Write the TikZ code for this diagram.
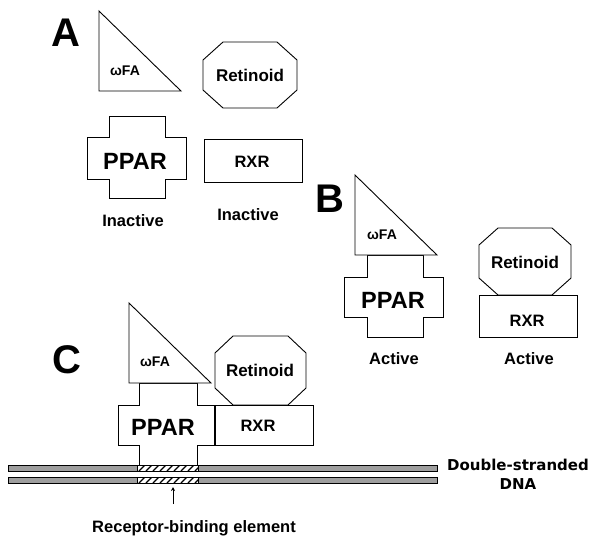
\documentclass[tikz,border=0pt]{standalone}
\usepackage{fontspec}
\usetikzlibrary{arrows.meta}
\setmainfont{Liberation Sans}
\newfontfamily\dvfont{DejaVu Sans}
\newcommand\myfs[1]{\fontsize{#1}{#1}\selectfont}
\definecolor{dnagray}{RGB}{158,158,158}
\begin{document}
\begin{tikzpicture}[x=1pt,y=-1pt,
  shp/.style={draw=black,line width=0.9pt,fill=white,line join=miter},
  letter/.style={inner sep=0pt,font=\bfseries\myfs{40}},
  bigtxt/.style={inner sep=0pt,font=\bfseries\myfs{23.5}},
  midtxt/.style={inner sep=0pt,font=\bfseries\myfs{17}},
  rxrtxt/.style={inner sep=0pt,font=\bfseries\myfs{16.5}},
  fatxt/.style={inner sep=0pt,font=\bfseries\myfs{14}},
  captxt/.style={inner sep=0pt,font=\bfseries\myfs{16.5}},
  dnatxt/.style={inner sep=0pt,font=\dvfont\bfseries\myfs{15},align=center},
  hatch/.style={line width=1.2pt,black}]
\useasboundingbox (0,0) rectangle (594,539);
\fill[white] (0,0) rectangle (594,539);

% ---------------- Panel A ----------------
\node[letter] (labA) at (66,33) {A};
\draw[shp] (99,11) -- (99,91) -- (181,91) -- cycle;
\node[fatxt] (faA) at (125,71) {ωFA};
\draw[shp] (223,42) -- (277,42) -- (297,60) -- (297,90) -- (277,108) -- (223,108) -- (203,90) -- (203,60) -- cycle;
\node[midtxt] (retA) at (250,75) {Retinoid};
\draw[shp] (109,116) -- (165,116) -- (165,137) -- (186,137) -- (186,179) -- (165,179) -- (165,198) -- (109,198) -- (109,179) -- (87,179) -- (87,137) -- (109,137) -- cycle;
\node[bigtxt] (pparA) at (135,161) {PPAR};
\draw[shp] (204,139) rectangle (302,182);
\node[rxrtxt] (rxrA) at (252,162) {RXR};
\node[captxt] (inA1) at (133,221) {Inactive};
\node[captxt] (inA2) at (248,215) {Inactive};

% ---------------- Panel B ----------------
\node[letter] (labB) at (330,199) {B};
\draw[shp] (367,255) -- (423,255) -- (423,277) -- (443,277) -- (443,317) -- (423,317) -- (423,337) -- (367,337) -- (367,317) -- (344,317) -- (344,277) -- (367,277) -- cycle;
\draw[shp] (355,175) -- (355,255) -- (437,255) -- cycle;
\node[fatxt] (faB) at (382,235) {ωFA};
\node[bigtxt] (pparB) at (393,300) {PPAR};
\draw[shp] (498,228) -- (552,228) -- (571,245) -- (571,278) -- (552,295) -- (498,295) -- (479,278) -- (479,245) -- cycle;
\node[midtxt] (retB) at (525,262) {Retinoid};
\draw[shp] (479,295) rectangle (577,337);
\node[rxrtxt] (rxrB) at (527,321) {RXR};
\node[captxt] (acB1) at (394,359) {Active};
\node[captxt] (acB2) at (529,359) {Active};

% ---------------- Panel C ----------------
\node[letter] (labC) at (67,360) {C};
\draw[shp] (139,383) -- (197,383) -- (197,405) -- (215,405) -- (215,445) -- (197,445) -- (197,465) -- (139,465) -- (139,445) -- (118,445) -- (118,405) -- (139,405) -- cycle;
\draw[shp] (129,303) -- (129,383) -- (211,383) -- cycle;
\node[fatxt] (faC) at (155,362) {ωFA};
\node[bigtxt] (pparC) at (163,427) {PPAR};
\draw[shp] (233,336) -- (288,336) -- (306,353) -- (306,388) -- (288,405) -- (233,405) -- (215,388) -- (215,353) -- cycle;
\node[midtxt] (retC) at (260,370) {Retinoid};
\draw[shp] (215,405) rectangle (313,445);
\draw[line width=2pt] (215,405) -- (215,445);
\node[rxrtxt] (rxrC) at (258,426) {RXR};

% DNA strands
\foreach \ya/\yb in {465/471,477/483}{
  \fill[dnagray] (8,\ya) rectangle (437,\yb);
  \fill[white] (137,\ya) rectangle (198,\yb);
  \begin{scope}
    \clip (137,\ya) rectangle (198,\yb);
    \foreach \xx in {132,139,...,200}{
      \draw[hatch] (\xx,\yb) -- (\xx+6,\ya);
    }
  \end{scope}
  \draw[line width=0.8pt] (8,\ya) rectangle (437,\yb);
  \draw[line width=0.8pt] (137,\ya) -- (137,\yb) (198,\ya) -- (198,\yb);
}
\node[dnatxt] (dna) at (518,474) {Double-stranded\\[4pt]DNA};

% Receptor-binding element
\coordinate (rbeTip) at (173,487);
\coordinate (rbeFoot) at (173,504);
\draw[line width=0.9pt,-{Stealth[length=4pt,width=4pt]}] (rbeFoot) -- (rbeTip);
\node[captxt] (rbe) at (194,528) {Receptor-binding element};
\end{tikzpicture}
\end{document}
